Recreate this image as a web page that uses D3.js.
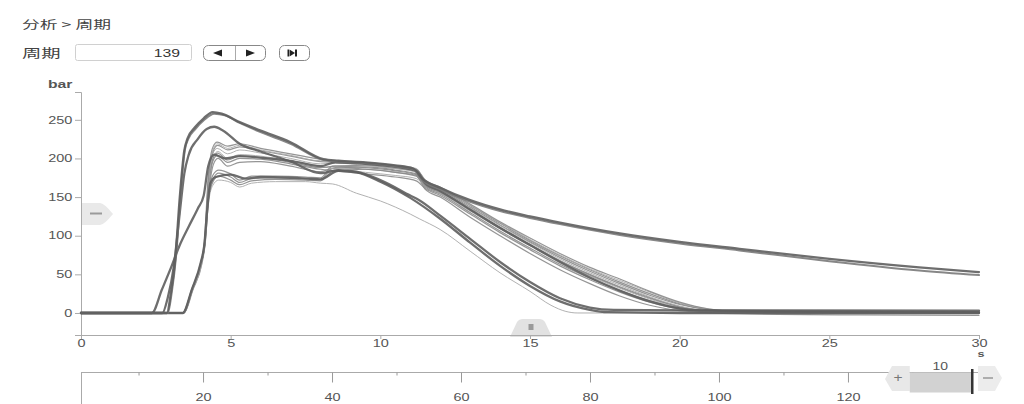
<!DOCTYPE html>
<html><head><meta charset="utf-8">
<script src="https://cdn.jsdelivr.net/npm/d3@7"></script>
<style>
html,body{margin:0;padding:0;background:#fff;}
svg{display:block;}
text{font-family:"Liberation Sans","Noto Sans CJK SC",sans-serif;fill:#555;}
.cjk{font-family:"Noto Sans CJK SC","Liberation Sans",sans-serif;fill:#444;}
</style></head>
<body>
<svg id="c" width="1024" height="404"></svg>
<script>
// ---------------- data ----------------
const breadcrumb = "分析 > 周期";
const cycleLabel = "周期";
const cycleValue = 139;
const windowSize = 10;
const yUnit = "bar";
const xUnit = "s";
const tTicks = [0,5,10,15,20,25,30];
const yTicks = [0,50,100,150,200,250];
const navMajor = [20,40,60,80,100,120];
const navMinor = [10,30,50,70,90,110,130];

const longA = [[0,0],[2.87,0],[3.0,25],[3.15,70],[3.3,150],[3.45,210],[3.56,226],[3.8,240],[4.1,252],[4.4,260],[4.7,258],[5.3,247],[6,236],[7,221],[8.1,199],[8.6,197],[9.5,195],[10.5,191],[11.1,187],[11.4,174],[12,162],[13,146],[14,134],[15,125],[16,117],[18,103],[20,92],[22,83],[25,70],[28,59],[30,53]];
const longB = [[0,0],[2.9,0],[3.03,26],[3.18,75],[3.33,155],[3.47,211],[3.58,225],[3.82,238],[4.12,250],[4.45,258],[4.8,256],[5.3,246],[6,234],[7,219],[8.1,198],[8.6,196],[9.5,194],[10.5,190],[11.1,186],[11.4,172],[12,160],[13,144],[14,132],[15,123],[16,115],[18,101],[20,90],[22,81],[25,67],[28,55],[30,49]];
const peak240 = [[0,0],[2.72,0],[2.9,20],[3.1,60],[3.3,130],[3.45,180],[3.6,205],[3.9,225],[4.2,238],[4.45,241],[4.75,236],[5.3,219],[6,209],[7,196],[8,181],[8.6,185],[9.2,183],[10,172],[11,152],[11.3,146],[12,126],[13,96],[14,66],[15,40],[16,19],[17,7],[17.8,4],[20,3.5],[30,3]];
const lateStart = [[0,0],[3.4,0],[3.7,30],[4.0,65],[4.12,88],[4.22,135],[4.32,168],[4.5,176],[5,179],[5.5,174],[6,176],[7,175],[8,173],[8.6,184],[9.2,182],[10,170],[11,149],[12,122],[13,91],[14,61],[15,35],[16,15],[17,4],[17.6,1],[20,0],[30,0]];
const gradual = [[0,0],[2.37,0],[2.7,30],[3.0,58],[3.3,88],[3.6,112],[3.9,135],[4.1,152],[4.25,190],[4.45,205],[4.8,200],[5.3,203],[6,201],[7,197],[8,190],[8.5,195],[9.5,193],[10.5,189],[11.2,184],[11.5,168],[12,158],[13,134],[14,110],[15,88],[16,66],[17,46],[18,29],[19,15],[20,6],[21,3],[24,2],[30,1]];

const thinU1 = [[0,0],[3.4,0],[3.7,31],[4.0,66],[4.12,92],[4.25,176],[4.4,214],[4.55,221],[4.9,216],[5.3,219],[6,213],[7,206],[8,199],[8.5,196],[9.5,194],[10.5,190],[11.2,186],[11.5,172],[12,163],[13,141],[14,118],[15,97],[16,77],[17,59],[18,44],[19,28],[20,14],[21,5],[22,2],[30,1]];
const thinU2 = [[0,0],[3.42,0],[3.72,30],[4.02,65],[4.13,90],[4.26,172],[4.42,210],[4.57,217],[4.9,211],[5.3,215],[6,210],[7,203],[8,196],[8.5,195],[9.5,193],[10.5,189],[11.2,184],[11.5,170],[12,161],[13,139],[14,116],[15,94],[16,74],[17,56],[18,40],[19,25],[20,12],[21,4],[22,1],[30,0]];
const thinU3 = [[0,0],[3.4,0],[3.7,30],[4.0,64],[4.12,89],[4.25,168],[4.4,206],[4.55,213],[4.9,206],[5.3,211],[6,207],[7,200],[8,193],[8.5,194],[9.5,191],[10.5,187],[11.2,182],[11.5,168],[12,158],[13,136],[14,113],[15,91],[16,70],[17,52],[18,36],[19,21],[20,9],[21,2],[22,0],[30,0]];
const thinU4 = [[0,0],[3.43,0],[3.73,30],[4.03,64],[4.14,90],[4.27,164],[4.42,202],[4.57,209],[4.9,200],[5.3,205],[6,203],[7,197],[8,190],[8.5,186],[9.5,182],[10.5,178],[11.2,174],[11.5,164],[12,155],[13,132],[14,109],[15,87],[16,66],[17,48],[18,32],[19,18],[20,7],[21,2],[22,0],[30,0]];
const thinU5 = [[0,0],[3.41,0],[3.71,30],[4.01,64],[4.13,89],[4.26,160],[4.41,197],[4.56,204],[4.9,195],[5.3,200],[6,199],[7,193],[8,186],[8.5,184],[9.5,180],[10.5,176],[11.2,171],[11.5,161],[12,152],[13,128],[14,104],[15,82],[16,61],[17,43],[18,27],[19,14],[20,5],[21,1],[30,0]];
const thinU6 = [[0,0],[3.44,0],[3.74,30],[4.04,64],[4.15,90],[4.28,158],[4.43,193],[4.58,200],[4.9,190],[5.3,195],[6,196],[7,190],[8,183],[8.5,188],[9.5,186],[10.5,182],[11.2,178],[11.5,160],[12,150],[13,124],[14,100],[15,77],[16,56],[17,38],[18,22],[19,10],[20,3],[22,-1],[26,-2.5],[30,-3]];
const thinU7 = [[0,0],[3.43,0],[3.73,30],[4.03,65],[4.14,91],[4.27,170],[4.42,212],[4.56,219],[4.9,213],[5.3,217],[6,211],[7,204],[8,197],[8.5,197],[9.5,195],[10.5,191],[11.2,187],[11.5,171],[12,162],[13,140],[14,117],[15,95],[16,75],[17,57],[18,42],[19,27],[20,13],[21,5],[22,2],[30,1]];
const thinU8 = [[0,0],[3.41,0],[3.71,30],[4.01,64],[4.13,89],[4.26,162],[4.41,200],[4.56,207],[4.9,198],[5.3,203],[6,201],[7,195],[8,188],[8.5,190],[9.5,188],[10.5,184],[11.2,179],[11.5,165],[12,156],[13,134],[14,111],[15,89],[16,68],[17,50],[18,34],[19,20],[20,8],[21,2],[30,0]];
const thinL1 = [[0,0],[3.4,0],[3.7,30],[4.0,64],[4.12,88],[4.25,150],[4.4,178],[4.6,185],[5.0,180],[5.3,172],[5.7,177],[6.5,177],[7.5,176],[8,175],[8.4,190],[9.5,191],[10.5,187],[11.2,183],[11.5,169],[12,160],[13,137],[14,114],[15,92],[16,72],[17,54],[18,38],[19,23],[20,11],[21,4],[22,1],[30,0]];
const thinL2 = [[0,0],[3.42,0],[3.72,30],[4.02,64],[4.13,88],[4.26,148],[4.42,174],[4.6,181],[5.0,176],[5.3,169],[5.7,174],[6.5,175],[7.5,174],[8,173],[8.4,187],[9.5,189],[10.5,185],[11.2,180],[11.5,166],[12,157],[13,133],[14,110],[15,88],[16,67],[17,49],[18,33],[19,19],[20,8],[21,2],[30,0]];
const thinL3 = [[0,0],[3.41,0],[3.71,30],[4.01,64],[4.12,88],[4.25,146],[4.41,170],[4.6,177],[5.0,172],[5.3,166],[5.7,171],[6.5,173],[7.5,172],[8,171],[8.4,183],[9.5,186],[10.5,182],[11.2,177],[11.5,163],[12,154],[13,130],[14,106],[15,84],[16,63],[17,45],[18,29],[19,16],[20,6],[21,1],[30,0]];
const thinLow = [[0,0],[3.42,0],[3.72,30],[4.02,64],[4.14,88],[4.27,145],[4.4,165],[4.6,172],[5.0,169],[5.3,163],[5.7,168],[6.5,170],[7.5,170],[8,168],[8.4,167],[9.2,155],[10,145],[11,128],[11.3,122],[12,108],[13,80],[14,52],[15,28],[15.7,10],[16.2,2],[16.6,0],[30,0]];

const seriesTable = [
  {data: thinLow, kind: "light"},
  {data: thinL3, kind: "thin"}, {data: thinL2, kind: "thin"}, {data: thinL1, kind: "thin"},
  {data: thinU6, kind: "thin"}, {data: thinU5, kind: "thin"}, {data: thinU4, kind: "light"},
  {data: thinU8, kind: "thin"}, {data: thinU3, kind: "light"}, {data: thinU2, kind: "thin"},
  {data: thinU7, kind: "light"}, {data: thinU1, kind: "thin"},
  {data: gradual, kind: "thick"}, {data: lateStart, kind: "thick"}, {data: peak240, kind: "thick"},
  {data: longB, kind: "thickLight"}, {data: longA, kind: "thick"}
];
const styles = {
  light: {stroke: "#a8a8a8", width: 1.0},
  thin: {stroke: "#8a8a8a", width: 1.2},
  thick: {stroke: "#5e5e5e", width: 2.3},
  thickLight: {stroke: "#7a7a7a", width: 2.0}
};

// ---------------- drawing ----------------
const SX = 1.45; // horizontal text stretch seen in the reference
const svg = d3.select("#c");

function stext(x, y, str, size, anchor, cls, sx) {
  return svg.append("text")
    .attr("class", cls || null)
    .attr("transform", `translate(${x},${y}) scale(${sx || SX},1)`)
    .attr("text-anchor", anchor || "start")
    .attr("font-size", size)
    .text(str);
}

// header
stext(22, 29, breadcrumb, 11.5, "start", "cjk", 1.55);
stext(22, 58, cycleLabel, 12.5, "start", "cjk", 1.55);
svg.append("rect").attr("x", 75.5).attr("y", 44.5).attr("width", 116).attr("height", 16)
  .attr("rx", 2).attr("fill", "#fff").attr("stroke", "#d0d0d0");
stext(180, 57, String(cycleValue), 10.5, "end", null, 1.5).style("fill", "#333");
svg.append("rect").attr("x", 203.5).attr("y", 45.5).attr("width", 62).attr("height", 15)
  .attr("rx", 5).attr("fill", "#fff").attr("stroke", "#888");
svg.append("line").attr("x1", 235.5).attr("x2", 235.5).attr("y1", 46).attr("y2", 60).attr("stroke", "#aaa");
svg.append("path").attr("d", "M213,53 L222,49.5 L222,56.5 Z").attr("fill", "#222");
svg.append("path").attr("d", "M255,53 L246,49.5 L246,56.5 Z").attr("fill", "#222");
svg.append("rect").attr("x", 279.5).attr("y", 45.5).attr("width", 30).attr("height", 15)
  .attr("rx", 5).attr("fill", "#fff").attr("stroke", "#888");
svg.append("rect").attr("x", 287.5).attr("y", 49.5).attr("width", 1.5).attr("height", 7).attr("fill", "#222");
svg.append("path").attr("d", "M289.5,49.5 L295,53 L289.5,56.5 Z").attr("fill", "#222");
svg.append("rect").attr("x", 295).attr("y", 49.5).attr("width", 2).attr("height", 7).attr("fill", "#222");

// scales
const x = d3.scaleLinear().domain([0, 30]).range([81, 979]);
const y = d3.scaleLinear().domain([-28.5, 286]).range([335, 92]);

// handles
svg.append("path").attr("d", "M82,203 L100,203 Q104,203 113,214 Q104,225 100,225 L82,225 Z").attr("fill", "#e9e9e9");
svg.append("line").attr("x1", 90).attr("x2", 102).attr("y1", 213.5).attr("y2", 213.5).attr("stroke", "#9a9a9a").attr("stroke-width", 2);
svg.append("path").attr("d", "M510,337 L517,322 Q519,319 523,319 L539,319 Q543,319 545,322 L552,337 Z").attr("fill", "#e2e2e2");
svg.append("rect").attr("x", 528.5).attr("y", 324).attr("width", 5).attr("height", 6).attr("fill", "#9a9a9a");

// axes
const yAxis = svg.append("g").attr("transform", "translate(81,0)")
  .call(d3.axisLeft(y).tickValues(yTicks).tickSize(6).tickSizeOuter(6));
yAxis.selectAll("path,line").attr("stroke", "#aaa");
yAxis.selectAll("text").attr("x", -6).attr("font-size", 10)
  .attr("font-family", "Liberation Sans").attr("fill", "#555")
  .attr("transform", `scale(${SX},1)`);

const xAxis = svg.append("g").attr("transform", "translate(0,335)")
  .call(d3.axisBottom(x).tickValues(tTicks).tickSize(4).tickSizeOuter(4).tickFormat(d3.format("d")));
xAxis.selectAll("path,line").attr("stroke", "#aaa");
xAxis.selectAll("text").attr("y", 5).attr("font-size", 10)
  .attr("font-family", "Liberation Sans").attr("fill", "#555")
  .attr("transform", `scale(${SX},1)`);

stext(48, 88, yUnit, 10.5, "start", null, 1.5).style("font-weight", "bold").style("fill", "#555");
stext(981, 357, xUnit, 9, "middle", null, 1.4).style("font-weight", "bold");

// lines
const line = d3.line().x(d => x(d[0])).y(d => y(d[1])).curve(d3.curveMonotoneX);
const gLines = svg.append("g").attr("fill", "none").attr("stroke-linejoin", "round").attr("stroke-linecap", "round");
seriesTable.forEach(s => {
  const st = styles[s.kind];
  gLines.append("path").attr("d", line(s.data))
    .attr("stroke", st.stroke).attr("stroke-width", st.width).attr("stroke-opacity", 0.9);
});

// navigator
const nav = d3.scaleLinear().domain([1, 139]).range([81, 971]);
const navY = 372.5;
svg.append("line").attr("x1", 81).attr("x2", 979).attr("y1", navY).attr("y2", navY).attr("stroke", "#aaa");
svg.append("line").attr("x1", 81.5).attr("x2", 81.5).attr("y1", navY).attr("y2", 404).attr("stroke", "#aaa");
svg.selectAll(".navMaj").data(navMajor).enter().append("line")
  .attr("x1", d => nav(d)).attr("x2", d => nav(d)).attr("y1", navY).attr("y2", navY + 10).attr("stroke", "#999");
svg.selectAll(".navMin").data(navMinor).enter().append("line")
  .attr("x1", d => nav(d)).attr("x2", d => nav(d)).attr("y1", navY).attr("y2", navY + 3).attr("stroke", "#999");
navMajor.forEach(v => stext(nav(v), 400.5, String(v), 10, "middle", null, 1.45));

// navigator window
const winLeft = nav(cycleValue - windowSize + 0.5);
svg.append("path").attr("d", `M${winLeft},366 L${winLeft},391 L892,391 L885,379 L892,366 Z`).attr("fill", "#e8e8e8");
stext(898, 382, "+", 12, "middle", null, 1.3).style("fill", "#777");
svg.append("rect").attr("x", winLeft).attr("y", navY).attr("width", nav(cycleValue) - winLeft).attr("height", 20).attr("fill", "#d2d2d2");
svg.append("rect").attr("x", nav(cycleValue)).attr("y", 369).attr("width", 2.5).attr("height", 25).attr("fill", "#333");
stext((winLeft + nav(cycleValue)) / 2, 370, String(windowSize), 10, "middle", null, 1.4);
svg.append("path").attr("d", "M978,366 L995,366 L1002,378 L995,391 L978,391 Z").attr("fill", "#ececec");
svg.append("line").attr("x1", 983).attr("x2", 993).attr("y1", 378).attr("y2", 378).attr("stroke", "#999").attr("stroke-width", 1.5);
</script>
</body></html>
